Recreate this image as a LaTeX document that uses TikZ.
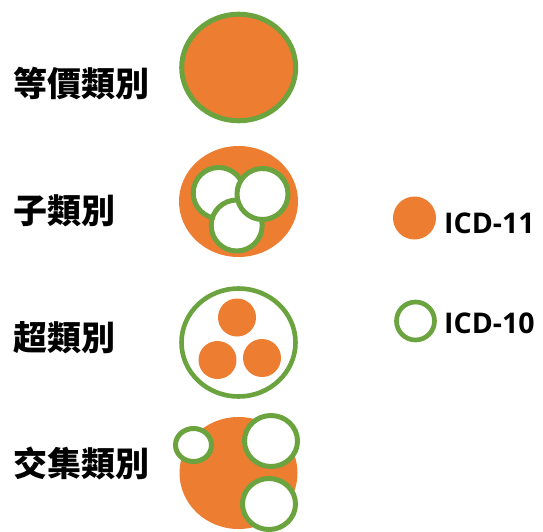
\documentclass[tikz,border=0pt]{standalone}
\usepackage{fontspec}
\newfontfamily\cjk{Noto Sans CJK TC}
\newfontfamily\lat{Open Sans}
\definecolor{icdorange}{HTML}{ED7D31}
\definecolor{icdgreen}{HTML}{6BA43F}
\tikzset{
  eleven/.style={fill=icdorange, draw=none},
  ten/.style={draw=icdgreen, line width=5pt, fill=white},
  tenfilled/.style={draw=icdgreen, line width=5pt, fill=icdorange},
  catlabel/.style={anchor=west, inner sep=0pt, font=\cjk\bfseries\fontsize{34}{38}\selectfont},
  leglabel/.style={anchor=west, inner sep=0pt, font=\lat\bfseries\fontsize{28.5}{32}\selectfont}
}
\begin{document}
\begin{tikzpicture}[x=1pt,y=-1pt]
\useasboundingbox (0,0) rectangle (543,532);
% equivalence
\draw[tenfilled] (238.7,67.5) ellipse [x radius=57, y radius=53.3];
\node[catlabel] (eq) at (13,83.5) {等價類別};
% sub
\fill[eleven] (238.5,201.5) ellipse [x radius=59.5, y radius=55.5];
\draw[ten] (218.7,193) circle [radius=25.5];
\draw[ten] (236.7,225.5) circle [radius=25.5];
\draw[ten] (262.5,194) circle [radius=25.5];
\node[catlabel] (sub) at (13,211) {子類別};
% super
\draw[ten, line width=4.6pt] (238.5,342.5) ellipse [x radius=57, y radius=54];
\fill[eleven] (237,317.5) circle [radius=19];
\fill[eleven] (217.5,360) circle [radius=19];
\fill[eleven] (262,358) circle [radius=19];
\node[catlabel] (sup) at (13,337.5) {超類別};
% intersection
\fill[eleven] (238.5,473) ellipse [x radius=59, y radius=56];
\draw[ten] (193.5,445) ellipse [x radius=18, y radius=16.5];
\draw[ten] (271,441) ellipse [x radius=26.5, y radius=25.5];
\draw[ten] (269,504) ellipse [x radius=26.5, y radius=25.5];
\node[catlabel] (int) at (13,463) {交集類別};
% legend
\fill[eleven] (414.5,218) circle [radius=21.5];
\node[leglabel] (l11) at (444,223) {ICD-11};
\draw[ten, line width=4.7pt] (415.5,321) circle [radius=19];
\node[leglabel] (l10) at (444,323.5) {ICD-10};
\end{tikzpicture}
\end{document}
